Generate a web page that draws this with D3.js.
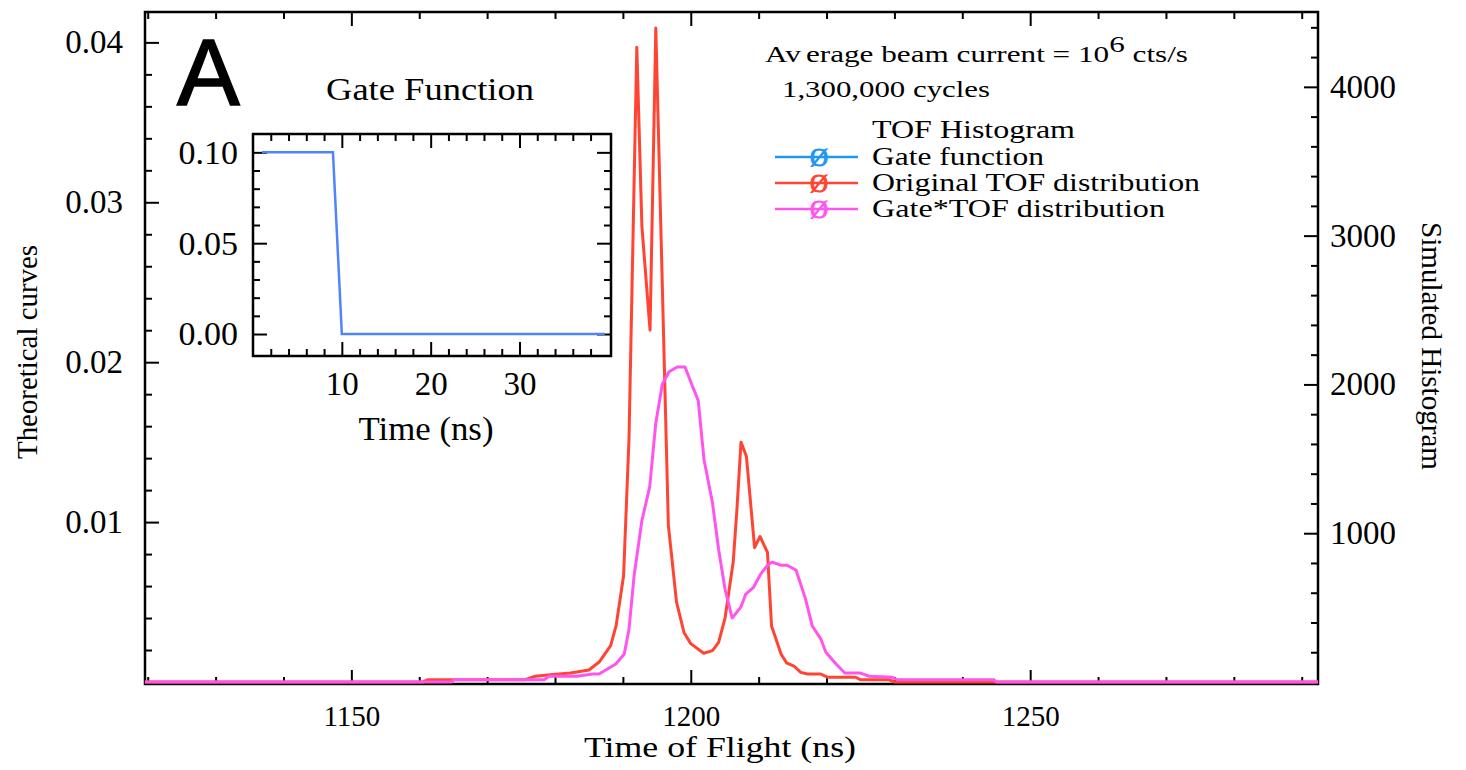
<!DOCTYPE html>
<html>
<head>
<meta charset="utf-8">
<script src="https://cdn.jsdelivr.net/npm/d3@7"></script>
<style>
body { margin: 0; background: #fff; }
text { font-family: "Liberation Serif", "Times New Roman", serif; fill: #000; }
</style>
</head>
<body>
<div id="svg-holder"></div>
<script>
// values

// Original TOF distribution (left axis, theoretical curve)
let origT = [1118, 1160.5, 1161.3, 1175.6, 1177.1, 1179.3, 1182.3, 1185.0, 1186.5, 1188.2, 1189.0, 1190.1, 1190.9, 1192.05, 1192.8, 1194.0, 1194.85, 1196.7, 1197.9, 1199.0, 1200.0, 1201.9, 1203.2, 1204.1, 1205.05, 1206.25, 1206.8, 1207.4, 1208.2, 1209.4, 1210.2, 1211.3, 1211.9, 1213.3, 1214.1, 1215.2, 1216.2, 1217.2, 1219.15, 1220.1, 1224.3, 1225.0, 1229.2, 1230.0, 1294];
let origV = [0, 0, 0.00014, 0.00014, 0.00036, 0.00046, 0.00056, 0.00075, 0.00125, 0.00227, 0.00352, 0.00664, 0.0152, 0.0397, 0.0285, 0.0220, 0.0409, 0.0098, 0.0050, 0.0031, 0.0024, 0.0018, 0.00196, 0.00248, 0.0040, 0.0075, 0.0108, 0.0150, 0.0141, 0.0084, 0.0091, 0.0081, 0.0035, 0.00175, 0.0012, 0.0010, 0.0006, 0.0005, 0.0005, 0.0003, 0.0003, 0.00014, 0.00014, 0, 0];

// Gate*TOF distribution
let gatedT = [1118, 1164.8, 1165.1, 1178.4, 1179.1, 1183.2, 1185.6, 1186.5, 1188.95, 1190.2, 1190.9, 1191.65, 1192.8, 1193.95, 1194.85, 1195.8, 1196.8, 1198.0, 1199.15, 1200.15, 1201.1, 1201.95, 1203.2, 1204.1, 1205.05, 1206.1, 1207.4, 1208.1, 1209.2, 1210.3, 1211.3, 1212.0, 1213.3, 1214.2, 1215.5, 1216.9, 1217.9, 1219.15, 1219.9, 1221.4, 1222.7, 1225.0, 1226.3, 1229.7, 1230.4, 1244.7, 1245.0, 1294];
let gatedV = [0, 0, 0.00014, 0.00014, 0.00036, 0.00036, 0.0005, 0.0005, 0.00113, 0.00175, 0.0033, 0.00664, 0.0101, 0.0122, 0.0162, 0.0186, 0.0194, 0.0197, 0.0197, 0.0186, 0.0176, 0.0139, 0.0112, 0.0083, 0.0058, 0.0040, 0.0047, 0.0055, 0.0059, 0.00675, 0.0073, 0.0075, 0.0073, 0.0073, 0.0070, 0.0052, 0.0035, 0.0027, 0.00186, 0.00113, 0.00056, 0.00056, 0.00036, 0.00029, 0.00014, 0.00014, 0, 0];

// gate function (inset)
let gateT = [1, 9, 10, 39.6];
let gateV = [0.10, 0.10, 0, 0];

// ticks
let xTicks = [1150, 1200, 1250];
let leftTicks = [0.01, 0.02, 0.03, 0.04];
let rightTicks = [1000, 2000, 3000, 4000];
let insetXTicks = [10, 20, 30];
let insetYTicks = [0, 0.05, 0.10];

let legendNames = ["Gate function", "Original TOF distribution", "Gate*TOF distribution"];
let legendColors = ["#2196f3", "#ff4433", "#ff55ee"];

let colors = {
    gateInset: "#4f84ff",
    orig: "#ff4433",
    gated: "#ff55ee"
};

let W = 1466, H = 770;
let plot = {left: 145, right: 1318, top: 12, bottom: 684};

let svg = d3.select("#svg-holder")
    .append("svg")
    .attr("width", W)
    .attr("height", H);

let x = d3.scaleLinear().domain([1119.6, 1292.4]).range([plot.left, plot.right]);
let yL = d3.scaleLinear().domain([0, 0.0419]).range([682, plot.top]);
let yR = d3.scaleLinear().domain([0, 4503]).range([682, plot.top]);

// draws major + minor inward ticks for one side
function sideTicks(make, scale, pos, major, minor, size, fmt, pad, fontSize) {
    svg.append("g")
        .attr("transform", pos)
        .call(make(scale).tickValues(minor).tickSize(-size / 2).tickFormat(""))
        .call(g => g.select(".domain").remove())
        .selectAll("line").attr("stroke", "#000").attr("stroke-width", 2);
    let g = svg.append("g")
        .attr("transform", pos)
        .call(make(scale).tickValues(major).tickSize(-size).tickPadding(pad).tickFormat(fmt || ""));
    g.select(".domain").remove();
    g.attr("font-family", null).attr("font-size", null);
    g.selectAll("line").attr("stroke", "#000").attr("stroke-width", 2);
    g.selectAll("text").style("font-size", fontSize + "px");
    return g;
}

// main frame
svg.append("rect")
    .attr("x", plot.left).attr("y", plot.top)
    .attr("width", plot.right - plot.left).attr("height", plot.bottom - plot.top)
    .attr("fill", "none").attr("stroke", "#000").attr("stroke-width", 2.5);

let minorX = d3.range(1120, 1292, 10).filter(v => !xTicks.includes(v));
sideTicks(d3.axisBottom, x, `translate(0,${plot.bottom})`, xTicks, minorX, 14, d3.format("d"), 21, 29);
sideTicks(d3.axisTop, x, `translate(0,${plot.top})`, xTicks, minorX, 14, null, 0, 28);
sideTicks(d3.axisLeft, yL, `translate(${plot.left},0)`, leftTicks,
    d3.range(0.002, 0.0419, 0.002).filter(v => Math.abs(v * 100 - Math.round(v * 100)) > 1e-6), 14, d3.format(".2f"), 22, 33);
sideTicks(d3.axisRight, yR, `translate(${plot.right},0)`, rightTicks,
    d3.range(200, 4503, 200).filter(v => v % 1000 !== 0), 14, d3.format("d"), 12, 33);

// axis titles
svg.append("text")
    .attr("x", 720).attr("y", 757)
    .attr("text-anchor", "middle").style("font-size", "30px")
    .attr("textLength", 272).attr("lengthAdjust", "spacingAndGlyphs")
    .text("Time of Flight (ns)");
svg.append("text")
    .attr("transform", "translate(37,352) rotate(-90)")
    .attr("text-anchor", "middle").style("font-size", "30px")
    .attr("textLength", 214).attr("lengthAdjust", "spacingAndGlyphs")
    .text("Theoretical curves");
svg.append("text")
    .attr("transform", "translate(1422,346) rotate(90)")
    .attr("text-anchor", "middle").style("font-size", "30px")
    .attr("textLength", 248).attr("lengthAdjust", "spacingAndGlyphs")
    .text("Simulated Histogram");

// curves
svg.append("clipPath").attr("id", "clip")
    .append("rect").attr("x", plot.left).attr("y", 0)
    .attr("width", plot.right - plot.left).attr("height", H);

let line = d3.line().x(d => x(d[0])).y(d => yL(d[1]));
let curves = svg.append("g").attr("clip-path", "url(#clip)");
curves.append("path")
    .datum(origT.map((t, i) => [t, origV[i]]))
    .attr("d", line).attr("fill", "none")
    .attr("stroke", colors.orig).attr("stroke-width", 3).attr("stroke-linejoin", "round");
curves.append("path")
    .datum(gatedT.map((t, i) => [t, gatedV[i]]))
    .attr("d", line).attr("fill", "none")
    .attr("stroke", colors.gated).attr("stroke-width", 3).attr("stroke-linejoin", "round");

// panel letter
svg.append("text")
    .attr("x", 177).attr("y", 105)
    .style("font-family", "'Liberation Sans', Arial, sans-serif")
    .style("font-size", "94px")
    .style("stroke", "#000").style("stroke-width", 1.6)
    .text("A");

// annotation + legend
let note = svg.append("text").attr("x", 765).attr("y", 62).style("font-size", "24px")
    .attr("textLength", 423).attr("lengthAdjust", "spacingAndGlyphs");
note.append("tspan").text("Av");
note.append("tspan").attr("dx", 4).text("erage beam current = 10");
note.append("tspan").attr("dy", -10).text("6");
note.append("tspan").attr("dy", 10).text(" cts/s");
svg.append("text").attr("x", 782).attr("y", 97).style("font-size", "24px")
    .attr("textLength", 208).attr("lengthAdjust", "spacingAndGlyphs")
    .text("1,300,000 cycles");

svg.append("text").attr("x", 872).attr("y", 138).style("font-size", "25px")
    .attr("textLength", 203).attr("lengthAdjust", "spacingAndGlyphs")
    .text("TOF Histogram");

let legendY = d3.scalePoint().domain(legendNames).range([157, 209]);
let textLens = [172, 328, 293];
legendNames.forEach((name, i) => {
    let yy = legendY(name);
    svg.append("line")
        .attr("x1", 775).attr("x2", 858).attr("y1", yy).attr("y2", yy)
        .attr("stroke", legendColors[i]).attr("stroke-width", 2.5);
    svg.append("text")
        .attr("x", 819).attr("y", yy + 9).attr("text-anchor", "middle")
        .style("font-size", "25px").style("fill", legendColors[i])
        .style("stroke", legendColors[i]).style("stroke-width", 1)
        .text("Ø");
    svg.append("text")
        .attr("x", 872).attr("y", yy + 8).style("font-size", "25px")
        .attr("textLength", textLens[i]).attr("lengthAdjust", "spacingAndGlyphs")
        .text(name);
});

// inset: gate function
let inset = {left: 253, right: 611, top: 134, bottom: 356};
let xi = d3.scaleLinear().domain([0, 40.3]).range([inset.left, inset.right]);
let yi = d3.scaleLinear().domain([-0.0121, 0.1101]).range([inset.bottom, inset.top]);

svg.append("rect")
    .attr("x", inset.left).attr("y", inset.top)
    .attr("width", inset.right - inset.left).attr("height", inset.bottom - inset.top)
    .attr("fill", "#fff").attr("stroke", "#000").attr("stroke-width", 2.5);

let minorXi = d3.range(2, 40.3, 2).filter(v => v % 10 !== 0);
let minorYi = [0.01, 0.02, 0.03, 0.04, 0.06, 0.07, 0.08, 0.09];
sideTicks(d3.axisBottom, xi, `translate(0,${inset.bottom})`, insetXTicks, minorXi, 14, d3.format("d"), 16, 33);
sideTicks(d3.axisTop, xi, `translate(0,${inset.top})`, insetXTicks, minorXi, 14, null, 0, 31);
sideTicks(d3.axisLeft, yi, `translate(${inset.left},0)`, insetYTicks, minorYi, 14, d3.format(".2f"), 15, 34);
sideTicks(d3.axisRight, yi, `translate(${inset.right},0)`, insetYTicks, minorYi, 14, null, 0, 31);

svg.append("path")
    .datum(gateT.map((t, i) => [t, gateV[i]]))
    .attr("d", d3.line().x(d => xi(d[0])).y(d => yi(d[1])))
    .attr("fill", "none").attr("stroke", colors.gateInset).attr("stroke-width", 2.5);

svg.append("text").attr("x", 426).attr("y", 440).attr("text-anchor", "middle")
    .style("font-size", "33px").attr("textLength", 135).attr("lengthAdjust", "spacingAndGlyphs")
    .text("Time (ns)");
svg.append("text").attr("x", 430).attr("y", 100).attr("text-anchor", "middle")
    .style("font-size", "32px").attr("textLength", 208).attr("lengthAdjust", "spacingAndGlyphs")
    .text("Gate Function");
</script>
</body>
</html>
